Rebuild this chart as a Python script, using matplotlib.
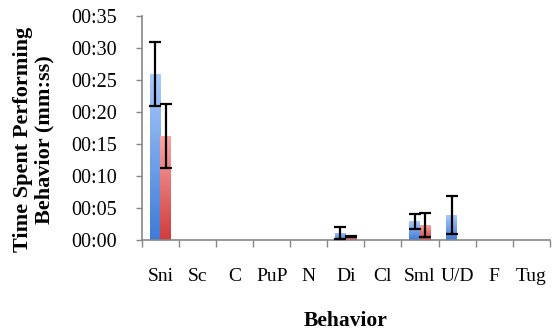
import matplotlib.pyplot as plt
import numpy as np
from matplotlib.colors import LinearSegmentedColormap
from matplotlib.ticker import FuncFormatter, FixedLocator

behaviors = ["Sni", "Sc", "C", "PuP", "N", "Di", "Cl", "Sml", "U/D", "F", "Tug"]
# seconds
series_a = [25.9, 0, 0, 0, 0, 1.1, 0, 2.9, 3.9, 0, 0]
series_a_err = [5.0, 0, 0, 0, 0, 1.0, 0, 1.2, 3.0, 0, 0]
series_b = [16.2, 0, 0, 0, 0, 0.5, 0, 2.3, 0, 0, 0]
series_b_err = [5.0, 0, 0, 0, 0, 0.1, 0, 1.9, 0, 0, 0]

plt.rcParams['font.family'] = ['Liberation Serif', 'DejaVu Serif']

blue_cmap = LinearSegmentedColormap.from_list("b", ["#3f7bd6", "#a9c9fa"])
red_cmap = LinearSegmentedColormap.from_list("r", ["#cf3d3d", "#f9a3a3"])


def gradient_bars(ax, bars, cmap):
    grad = np.linspace(0, 1, 100).reshape(-1, 1)
    for rect in bars:
        x, w, h = rect.get_x(), rect.get_width(), rect.get_height()
        if h <= 0:
            continue
        im = ax.imshow(grad, extent=[x, x + w, 0, h], origin="lower",
                       aspect="auto", cmap=cmap, zorder=2)
        im.set_clip_path(rect)


def mmss(v, pos):
    v = int(round(v))
    return f"{v // 60:02d}:{v % 60:02d}"


fig = plt.figure(figsize=(5.52, 3.31), dpi=100)
ax = fig.add_axes([0.257, 0.275, 0.739, 0.677])

x = np.arange(len(behaviors))
w = 0.29
bars_a = ax.bar(x - w / 2, series_a, w, facecolor="none", edgecolor="none", zorder=2)
bars_b = ax.bar(x + w / 2, series_b, w, facecolor="none", edgecolor="none", zorder=2)
gradient_bars(ax, bars_a, blue_cmap)
gradient_bars(ax, bars_b, red_cmap)

for xs, vals, errs in [(x - w / 2, series_a, series_a_err), (x + w / 2, series_b, series_b_err)]:
    idx = [i for i in range(len(vals)) if vals[i] > 0]
    ax.errorbar(xs[idx], np.array(vals)[idx], yerr=np.array(errs)[idx], fmt="none",
                ecolor="black", elinewidth=1.6, capsize=4.5, capthick=1.6, zorder=3)

ax.set_xlim(-0.5, len(behaviors) - 0.5)
ax.set_ylim(0, 35)
ax.yaxis.set_major_locator(FixedLocator(np.arange(0, 36, 5)))
ax.yaxis.set_major_formatter(FuncFormatter(mmss))

ax.set_xticks(x)
ax.set_xticklabels(behaviors)
ax.set_xticks(np.arange(-0.5, len(behaviors), 1), minor=True)
ax.tick_params(axis="x", which="major", length=0, pad=20, labelsize=14)
ax.tick_params(axis="x", which="minor", length=5, color="#868686", width=1)
ax.tick_params(axis="y", length=4, color="#868686", width=1, labelsize=14.5, pad=14)

for s in ["top", "right"]:
    ax.spines[s].set_visible(False)
for s in ["left", "bottom"]:
    ax.spines[s].set_color("#868686")
    ax.spines[s].set_linewidth(1.2)

ax.set_ylabel("Time Spent Performing\nBehavior (mm:ss)", fontsize=16, fontweight="bold",
              linespacing=1.05)
ax.yaxis.set_label_coords(-0.215, 0.45)
ax.set_xlabel("Behavior", fontsize=15.5, fontweight="bold", labelpad=19)

fig.savefig("out.png", dpi=100)
